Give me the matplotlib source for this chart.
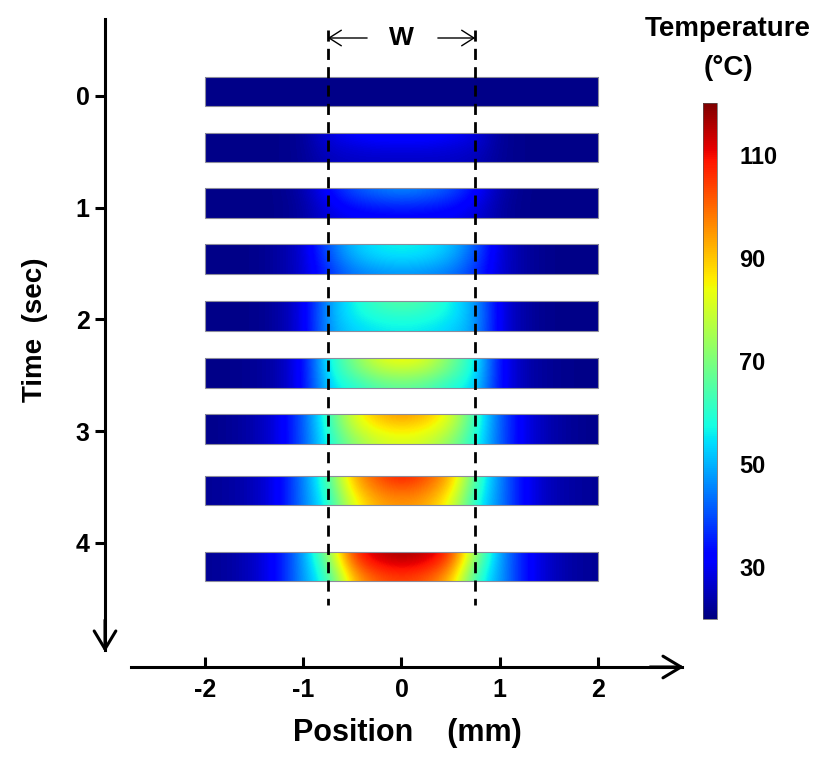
import matplotlib
matplotlib.use('Agg')
import matplotlib.pyplot as plt
from matplotlib.patches import Rectangle
import numpy as np

plt.rcParams['font.family'] = ['Liberation Sans', 'DejaVu Sans']
plt.rcParams['font.weight'] = 'bold'
plt.rcParams['axes.unicode_minus'] = False

# half profile positions (mm), mirrored about x = 0
half_pos = [0, 0.25, 0.5, 0.75, 1.0, 1.25, 1.5, 1.75, 2.0]

# time at which each strip is drawn (s) and axis ticks
strip_t = [-0.04, 0.46, 0.96, 1.46, 1.97, 2.48, 2.98, 3.53, 4.21]
time_ticks = [0, 1, 2, 3, 4]
pos_ticks = [-2, -1, 0, 1, 2]
cbar_ticks = [30, 50, 70, 90, 110]
t_min, t_max = 20, 120
w_half = 0.75

# temperature (C) read along top / middle / bottom edge of each strip
temp_top = [
    [21, 21, 21, 21, 21, 21, 21, 21, 21],
    [34, 34, 32, 29, 22, 21, 21, 21, 21],
    [47, 45, 41, 33, 24, 21, 21, 21, 21],
    [57, 56, 52, 42, 27, 23, 21, 21, 21],
    [66, 63, 57, 48, 29, 23, 21, 21, 21],
    [86, 82, 70, 57, 32, 24, 22, 21, 21],
    [96, 92, 82, 62, 41, 29, 24, 22, 21],
    [110, 103, 93, 64, 45, 31, 25, 23, 22],
    [118, 115, 107, 72, 48, 33, 26, 23, 22],
]
temp_mid = [
    [21, 21, 21, 21, 21, 21, 21, 21, 21],
    [29, 29, 28, 27, 22, 21, 21, 21, 21],
    [38, 37, 35, 30, 23, 21, 21, 21, 21],
    [54, 53, 49, 40, 27, 23, 21, 21, 21],
    [60, 59, 56, 49, 29, 23, 21, 21, 21],
    [76, 74, 66, 56, 32, 24, 22, 21, 21],
    [87, 85, 78, 60, 41, 29, 24, 22, 21],
    [101, 98, 88, 61, 45, 31, 25, 23, 22],
    [111, 109, 100, 66, 48, 33, 26, 23, 22],
]
temp_bot = [
    [21, 21, 21, 21, 21, 21, 21, 21, 21],
    [26, 26, 26, 25, 22, 21, 21, 21, 21],
    [31, 31, 30, 28, 23, 21, 21, 21, 21],
    [47, 46, 44, 37, 27, 23, 21, 21, 21],
    [56, 55, 53, 48, 29, 23, 21, 21, 21],
    [66, 64, 58, 54, 32, 24, 22, 21, 21],
    [81, 79, 71, 58, 41, 29, 24, 22, 21],
    [95, 93, 82, 58, 45, 31, 25, 23, 22],
    [104, 101, 91, 60, 48, 33, 26, 23, 22],
]

W, H = 817, 757
fig = plt.figure(figsize=(W / 100, H / 100), dpi=100)
ax = fig.add_axes([0, 0, 1, 1])
ax.patch.set_alpha(0)

# pixel mapping: x_px = 401.5 + 98.25*x ; y_px = 96 + 111.75*t
def px_x(p):
    return (p - 401.5) / 98.25

def px_t(p):
    return (p - 96) / 111.75

strip_h = 0.265
dx = half_pos[1] - half_pos[0]
im = None
for i, tc in enumerate(strip_t):
    rows = []
    for r in (temp_top[i], temp_mid[i], temp_bot[i]):
        r = list(r)
        rows.append(r[::-1] + r[1:])
    grid = np.array(rows, dtype=float)
    top = tc - strip_h / 2
    bot = tc + strip_h / 2
    step = strip_h / 2
    im = ax.imshow(grid, cmap='jet', vmin=t_min, vmax=t_max, aspect='auto',
                   interpolation='bicubic', interpolation_stage='data',
                   origin='upper',
                   extent=(-2 - dx / 2, 2 + dx / 2, bot + step / 2, top - step / 2))
    clip = Rectangle((-2, top), 4, strip_h, transform=ax.transData)
    im.set_clip_path(clip)
    ax.add_patch(Rectangle((-2, top), 4, strip_h, fill=False,
                           edgecolor='#8c8c9c', lw=0.8))

# W region boundaries
for xw in (-w_half, w_half):
    ax.plot([xw, xw], [px_t(30), px_t(605)], color='black', lw=2,
            linestyle=(0, (4, 2.6)))
tw = px_t(38)
ax.text(0, tw, 'W', ha='center', va='center', fontsize=19)
for x_end, x_start in ((-w_half, -0.35), (w_half, 0.37)):
    ax.annotate('', xy=(x_end, tw), xytext=(x_start, tw),
                arrowprops=dict(arrowstyle='->,head_length=0.55,head_width=0.35',
                                lw=1, color='black', mutation_scale=16,
                                shrinkA=0, shrinkB=0))

# axes drawn as arrows
x_axis_t = px_t(667)
y_axis_x = px_x(105)
ax.spines['top'].set_visible(False)
ax.spines['right'].set_visible(False)
ax.spines['bottom'].set_position(('data', x_axis_t))
ax.spines['left'].set_position(('data', y_axis_x))
ax.spines['bottom'].set_bounds(px_x(131), px_x(682))
ax.spines['left'].set_bounds(px_t(19), px_t(650))
for s in ('bottom', 'left'):
    ax.spines[s].set_linewidth(2.2)

head = dict(arrowstyle='->,head_length=0.5,head_width=0.3',
            lw=2.2, color='black', mutation_scale=26,
            shrinkA=0, shrinkB=0)
ax.annotate('', xy=(px_x(684), x_axis_t), xytext=(px_x(650), x_axis_t),
            arrowprops=head)
ax.annotate('', xy=(y_axis_x, px_t(652)), xytext=(y_axis_x, px_t(620)),
            arrowprops=head)

ax.set_xticks(pos_ticks)
ax.set_yticks(time_ticks)
ax.tick_params(axis='x', direction='in', length=7, width=2.2, pad=8,
               labelsize=18)
ax.tick_params(axis='y', direction='out', length=7, width=2.2, pad=4,
               labelsize=18)

ax.set_xlim(px_x(0), px_x(W))
ax.set_ylim(px_t(H), px_t(0))

fig.text(407 / W, 1 - 733 / H, 'Position    (mm)', ha='center', va='center',
         fontsize=22)
fig.text(35 / W, 1 - 330 / H, 'Time  (sec)', ha='center', va='center',
         rotation=90, fontsize=20)

# colour bar
cax = fig.add_axes([703 / W, (H - 619) / H, 14 / W, 516 / H])
cb = fig.colorbar(im, cax=cax, ticks=cbar_ticks)
cb.outline.set_linewidth(0.5)
cb.outline.set_edgecolor('#555555')
cax.tick_params(length=0, pad=16, labelsize=17)
fig.text(728 / W, 1 - 29 / H, 'Temperature', ha='center', va='center',
         fontsize=20)
fig.text(728 / W, 1 - 68 / H, '(°C)', ha='center', va='center',
         fontsize=20)

fig.savefig('out.png', dpi=100)
